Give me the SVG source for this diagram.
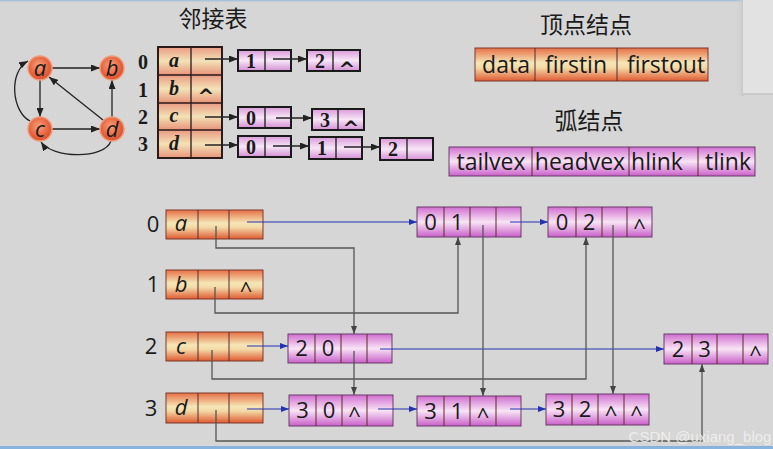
<svg xmlns="http://www.w3.org/2000/svg" width="773" height="449" viewBox="0 0 773 449">
<defs>
<linearGradient id="gV" x1="0" y1="0" x2="0" y2="1"><stop offset="0" stop-color="#e66f45"/><stop offset="0.45" stop-color="#f5e6b6"/><stop offset="0.6" stop-color="#f3d9a6"/><stop offset="1" stop-color="#df5a32"/></linearGradient>
<linearGradient id="gA" x1="0" y1="0" x2="0" y2="1"><stop offset="0" stop-color="#d06ed0"/><stop offset="0.5" stop-color="#f8e4f5"/><stop offset="1" stop-color="#c95fc9"/></linearGradient>
<linearGradient id="gT" x1="0" y1="0" x2="0" y2="1"><stop offset="0" stop-color="#e99a82"/><stop offset="0.5" stop-color="#f3e2b6"/><stop offset="1" stop-color="#e8937a"/></linearGradient>
<linearGradient id="gL" x1="0" y1="0" x2="0" y2="1"><stop offset="0" stop-color="#d99ad9"/><stop offset="0.5" stop-color="#f7e6f7"/><stop offset="1" stop-color="#d48fd4"/></linearGradient>
<radialGradient id="gN" cx="0.45" cy="0.4" r="0.6"><stop offset="0" stop-color="#f7a27e"/><stop offset="0.7" stop-color="#e6613c"/><stop offset="1" stop-color="#d9512e"/></radialGradient>
<linearGradient id="gShadow" x1="0" y1="0" x2="1" y2="0"><stop offset="0" stop-color="#c4c4c4"/><stop offset="1" stop-color="#d6d6d6" stop-opacity="0"/></linearGradient>
<marker id="mB" viewBox="0 0 8 6" refX="8" refY="3" markerWidth="8" markerHeight="6" markerUnits="userSpaceOnUse" orient="auto"><path d="M0,0L8,3L0,6z" fill="#2233b0"/></marker>
<marker id="mG" viewBox="0 0 8 6" refX="8" refY="3" markerWidth="8" markerHeight="6" markerUnits="userSpaceOnUse" orient="auto"><path d="M0,0L8,3L0,6z" fill="#444"/></marker>
<marker id="mK" viewBox="0 0 9 7" refX="9" refY="3.5" markerWidth="9" markerHeight="7" markerUnits="userSpaceOnUse" orient="auto"><path d="M0,0L9,3.5L0,7z" fill="#222"/></marker>
</defs>
<style>
.vt{fill:url(#gV);stroke:#7a3a2a;stroke-width:1}
.ar{fill:url(#gA);stroke:#6a3a6a;stroke-width:1}
.ln{fill:url(#gL);stroke:#1a1a1a;stroke-width:2}
.dv{stroke:#5a2a2a;stroke-width:1;fill:none}
.dl{stroke:#1a1a1a;stroke-width:1.3;fill:none}
.s{font-family:"Open Sans","DejaVu Sans",sans-serif;fill:#1a1a1a}
.b22{font-size:22px;text-anchor:middle}
.i22{font-size:22px;text-anchor:middle;font-style:italic}
.lg{font-size:23px;text-anchor:middle}
.sr{font-family:"Liberation Serif","DejaVu Serif",serif;font-weight:bold;font-size:20px;fill:#1a1a1a;text-anchor:middle}
.cj{font-family:"Noto Sans CJK SC",sans-serif;font-size:23px;fill:#1a1a1a;text-anchor:middle}
.cr{font-family:"DejaVu Sans",sans-serif;font-size:20px;font-weight:bold;fill:#1a1a1a;text-anchor:middle}
.bl{stroke:#2233b0;stroke-width:1.2;fill:none;marker-end:url(#mB)}
.gr{stroke:#555;stroke-width:1.3;fill:none;marker-end:url(#mG)}
.bk{stroke:#222;stroke-width:1.3;fill:none;marker-end:url(#mK)}
.gn{fill:url(#gN);stroke:#ef9b7a;stroke-width:1.5}
</style>
<rect width="773" height="449" fill="#d6d6d6"/>
<rect x="0" y="0" width="743" height="1.5" fill="#a9c3da"/>
<rect x="736" y="0" width="8" height="96" fill="url(#gShadow)" transform="matrix(-1,0,0,1,1480,0)"/>
<rect x="743" y="0" width="30" height="93" fill="#e2e2e2"/>
<rect x="743" y="93" width="30" height="2" fill="#cacaca"/>
<rect x="0" y="446" width="773" height="3" fill="#86b4de"/>

<g id="graph">
<g id="graph-edges">
<path class="bk" d="M52,68H100"/>
<path class="bk" d="M40,80V117"/>
<path class="bk" d="M52,129H100"/>
<path class="bk" d="M112,117V80"/>
<path class="bk" d="M103,120L49,77"/>
<path class="bk" d="M30,121C12,112 8,72 28,61"/>
<path class="bk" d="M111,141C104,160 52,158 41,142"/>
</g>
<g id="gn-a"><circle class="gn" cx="40" cy="68" r="12"/><text class="s i22" x="40" y="76">a</text></g>
<g id="gn-b"><circle class="gn" cx="112" cy="68" r="12"/><text class="s i22" x="112" y="76">b</text></g>
<g id="gn-c"><circle class="gn" cx="40" cy="129" r="12"/><text class="s i22" x="40" y="137">c</text></g>
<g id="gn-d"><circle class="gn" cx="112" cy="129" r="12"/><text class="s i22" x="112" y="137">d</text></g>
</g>

<text class="cj" x="213" y="27">邻接表</text>
<text class="cj" x="586" y="33">顶点结点</text>
<text class="cj" x="589" y="129">弧结点</text>

<g id="adj-table">
<rect x="158" y="47" width="64" height="28" fill="url(#gT)"/>
<rect x="158" y="75" width="64" height="28" fill="url(#gT)"/>
<rect x="158" y="103" width="64" height="27" fill="url(#gT)"/>
<rect x="158" y="130" width="64" height="28" fill="url(#gT)"/>
<rect x="158" y="47" width="64" height="111" fill="none" stroke="#2a1a1a" stroke-width="2"/>
<path d="M191,47V158M158,75H222M158,103H222M158,130H222" stroke="#2a1a1a" stroke-width="1.3" fill="none"/>
<text class="sr" x="143" y="69">0</text>
<text class="sr" x="143" y="97">1</text>
<text class="sr" x="143" y="124">2</text>
<text class="sr" x="143" y="151">3</text>
<text class="sr" x="174" y="67" font-style="italic">a</text>
<text class="sr" x="174" y="95" font-style="italic">b</text>
<text class="sr" x="174" y="122" font-style="italic">c</text>
<text class="sr" x="174" y="150" font-style="italic">d</text>
<text class="cr" x="206" y="103">^</text>
</g>

<g id="list-0-1"><rect class="ln" x="238" y="50" width="53" height="21"/><path class="dl" d="M265,50V71"/><text class="sr" x="251" y="68">1</text></g>
<g id="list-0-2"><rect class="ln" x="307" y="50" width="53" height="21"/><path class="dl" d="M333,50V71"/><text class="sr" x="320" y="68">2</text><text class="cr" x="347" y="76">^</text></g>
<g id="list-2-0"><rect class="ln" x="238" y="107" width="53" height="21"/><path class="dl" d="M265,107V128"/><text class="sr" x="251" y="125">0</text></g>
<g id="list-2-3"><rect class="ln" x="312" y="109" width="52" height="21"/><path class="dl" d="M338,109V130"/><text class="sr" x="325" y="127">3</text><text class="cr" x="351" y="135">^</text></g>
<g id="list-3-0"><rect class="ln" x="238" y="136" width="53" height="21"/><path class="dl" d="M265,136V157"/><text class="sr" x="251" y="154">0</text></g>
<g id="list-3-1"><rect class="ln" x="309" y="137" width="53" height="22"/><path class="dl" d="M336,137V159"/><text class="sr" x="322" y="155">1</text></g>
<g id="list-3-2"><rect class="ln" x="380" y="138" width="53" height="22"/><path class="dl" d="M407,138V160"/><text class="sr" x="393" y="156">2</text></g>

<g id="list-connectors">
<path class="bk" d="M205,59H238"/>
<path class="bk" d="M273,59H307"/>
<path class="bk" d="M205,117H238"/>
<path class="bk" d="M276,118H312"/>
<path class="bk" d="M205,145H238"/>
<path class="bk" d="M273,146H309"/>
<path class="bk" d="M344,147H380"/>
</g>

<g id="legend-vertex">
<rect class="vt" x="475" y="48" width="233" height="33"/>
<path class="dv" d="M535,48V81M617,48V81"/>
<text class="s lg" x="506" y="73">data</text>
<text class="s lg" x="576" y="73">firstin</text>
<text class="s lg" x="666" y="73">firstout</text>
</g>
<g id="legend-arc">
<rect class="ar" x="449" y="147" width="306" height="29"/>
<path class="dv" d="M532,147V176M629,147V176M698,147V176"/>
<text class="s lg" x="491" y="170">tailvex</text>
<text class="s lg" x="580" y="170">headvex</text>
<text class="s lg" x="657" y="170">hlink</text>
<text class="s lg" x="728" y="170">tlink</text>
</g>

<g id="v0"><rect class="vt" x="166" y="210" width="97" height="29"/><path class="dv" d="M198,210V239M229,210V239"/><text class="s b22" x="153" y="232">0</text><text class="s i22" x="181" y="231">a</text></g>
<g id="v1"><rect class="vt" x="166" y="270" width="97" height="29"/><path class="dv" d="M198,270V299M229,270V299"/><text class="s b22" x="153" y="292">1</text><text class="s i22" x="181" y="292">b</text><text class="s b22" x="246" y="298" font-size="20">^</text></g>
<g id="v2"><rect class="vt" x="166" y="332" width="97" height="29"/><path class="dv" d="M198,332V361M229,332V361"/><text class="s b22" x="151" y="354">2</text><text class="s i22" x="181" y="354">c</text></g>
<g id="v3"><rect class="vt" x="166" y="393" width="97" height="30"/><path class="dv" d="M198,393V423M229,393V423"/><text class="s b22" x="151" y="416">3</text><text class="s i22" x="181" y="415">d</text></g>

<g id="arc01" transform="translate(417,207)"><rect class="ar" width="104" height="30"/><path class="dv" d="M27,0V30M53,0V30M79,0V30"/><text class="s b22" x="13.5" y="23">0</text><text class="s b22" x="40" y="23">1</text></g>
<g id="arc02" transform="translate(548,207)"><rect class="ar" width="104" height="30"/><path class="dv" d="M28,0V30M54,0V30M79,0V30"/><text class="s b22" x="14" y="23">0</text><text class="s b22" x="41" y="23">2</text><text class="s b22" x="91.5" y="28" font-size="20">^</text></g>
<g id="arc20" transform="translate(288,334)"><rect class="ar" width="104" height="29"/><path class="dv" d="M27,0V29M53,0V29M79,0V29"/><text class="s b22" x="13.5" y="22">2</text><text class="s b22" x="40" y="22">0</text></g>
<g id="arc23" transform="translate(664,334)"><rect class="ar" width="104" height="30"/><path class="dv" d="M28,0V30M53,0V30M79,0V30"/><text class="s b22" x="14" y="23">2</text><text class="s b22" x="40.5" y="23">3</text><text class="s b22" x="91.5" y="28" font-size="20">^</text></g>
<g id="arc30" transform="translate(289,395)"><rect class="ar" width="104" height="31"/><path class="dv" d="M27,0V31M53,0V31M78,0V31"/><text class="s b22" x="13.5" y="23">3</text><text class="s b22" x="40" y="23">0</text><text class="s b22" x="65.5" y="28" font-size="20">^</text></g>
<g id="arc31" transform="translate(417,396)"><rect class="ar" width="104" height="30"/><path class="dv" d="M27,0V30M53,0V30M79,0V30"/><text class="s b22" x="13.5" y="23">3</text><text class="s b22" x="40" y="23">1</text><text class="s b22" x="66" y="28" font-size="20">^</text></g>
<g id="arc32" transform="translate(546,394)"><rect class="ar" width="103" height="31"/><path class="dv" d="M26,0V31M52,0V31M78,0V31"/><text class="s b22" x="13" y="23">3</text><text class="s b22" x="39" y="23">2</text><text class="s b22" x="65" y="28" font-size="20">^</text><text class="s b22" x="90.5" y="28" font-size="20">^</text></g>

<g id="connectors">
<path class="bl" d="M247,222H417"/>
<path class="bl" d="M510,222H548"/>
<path class="bl" d="M247,346H288"/>
<path class="bl" d="M380,349H664"/>
<path class="bl" d="M247,409H289"/>
<path class="bl" d="M378,409H417"/>
<path class="bl" d="M510,409H546"/>
<path class="gr" d="M216,226V248H354V334"/>
<path class="gr" d="M215,287V313H458V237"/>
<path class="gr" d="M483,225V396"/>
<path class="gr" d="M354,351V395"/>
<path class="gr" d="M212,350V379H586V237"/>
<path class="gr" d="M613,225V394"/>
<path class="gr" d="M216,410V441H702V364"/>
</g>

<text x="700" y="442" font-family="'Liberation Sans',sans-serif" font-size="15" fill="#f2f2f2" fill-opacity="0.85" text-anchor="middle">CSDN @uxiang_blog</text>
</svg>
